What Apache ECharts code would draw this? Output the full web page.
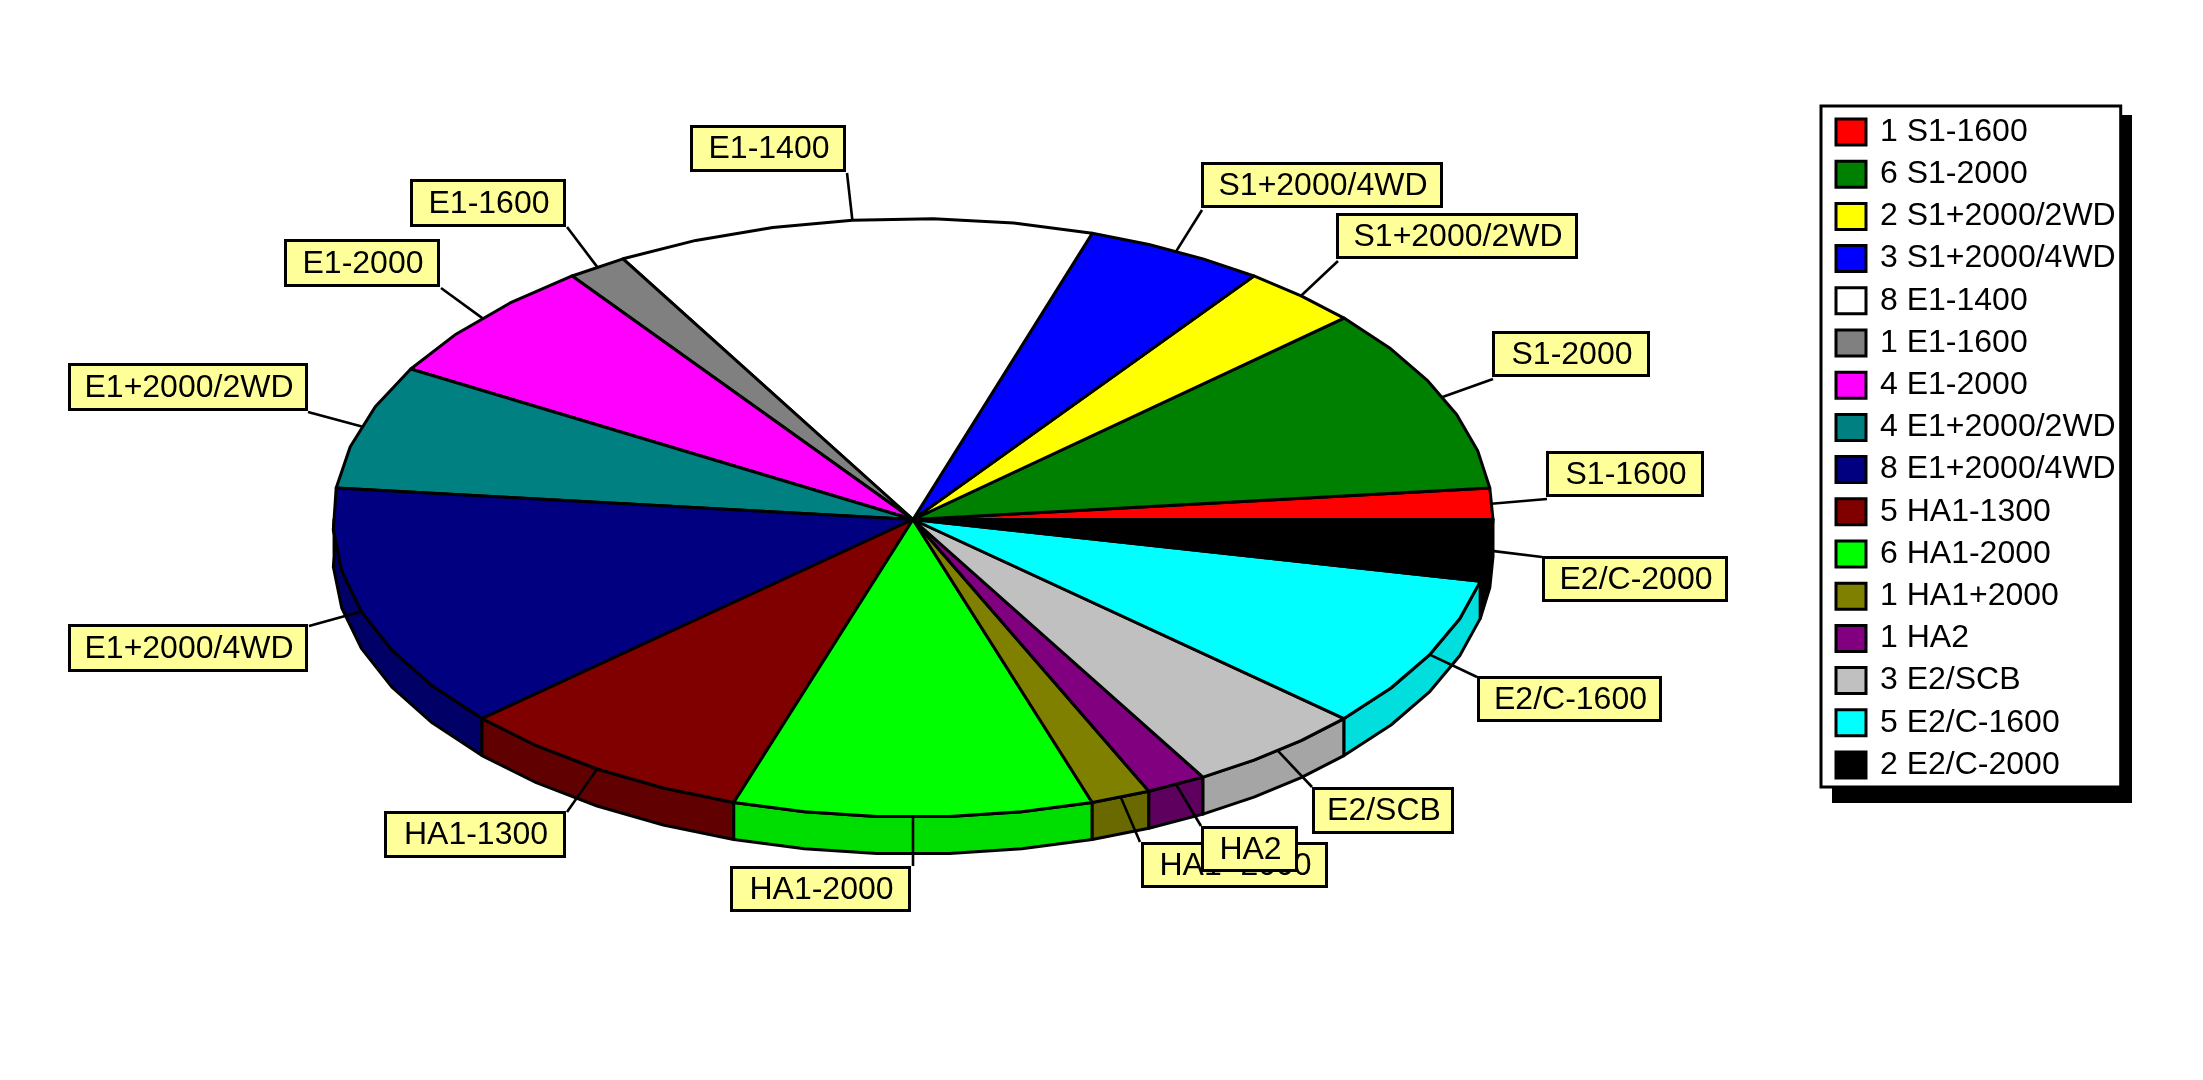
<!DOCTYPE html>
<html>
<head>
<meta charset="utf-8">
<style>html,body{margin:0;padding:0;background:#fff}#chart{width:2203px;height:1080px}</style>
<script src="https://cdn.jsdelivr.net/npm/echarts@6/dist/echarts.min.js"></script>
</head>
<body>
<div id="chart"></div>
<script>
// ---- chart values ----
const CATEGORIES = ['S1-1600','S1-2000','S1+2000/2WD','S1+2000/4WD','E1-1400','E1-1600','E1-2000',
  'E1+2000/2WD','E1+2000/4WD','HA1-1300','HA1-2000','HA1+2000','HA2','E2/SCB','E2/C-1600','E2/C-2000'];
const VALUES = [1,6,2,3,8,1,4,4,8,5,6,1,1,3,5,2];

// ---- styles ----
const TOP_COLORS = ['#ff0000','#008000','#ffff00','#0000ff','#ffffff','#808080','#ff00ff','#008080',
  '#000080','#800000','#00ff00','#808000','#800080','#c0c0c0','#00ffff','#000000'];
const SIDE_COLORS = ['#dd0000','#006e00','#dddd00','#0000dd','#dddddd','#6e6e6e','#dd00dd','#006e6e',
  '#000066','#600000','#00dd00','#696900','#5e005e','#a5a5a5','#00dede','#000000'];

// ---- layout (page pixels) ----
const PIE = {cx:913, cy:519.5, rx:580, ryBack:301, ryFront:297.5, depth:37, facet:8};
const LABEL_BOXES = [ // left, top, right, bottom of each callout
  [1546,451,1704,497],[1492,331,1650,377],[1336,213,1578,259],[1201,162,1443,208],
  [690,125,846,172],[410,179,566,227],[284,239,440,287],[68,363,308,411],
  [68,624,308,672],[384,811,566,858],[730,866,911,912],[1141,842,1328,888],
  [1201,826,1298,872],[1312,787,1454,834],[1477,676,1662,722],[1542,556,1728,602]];
const LEADER_ENDS = [[1547,499],[1493,379],[1338,261],[1202,210],[847,173],[567,227],[441,288],[308,412],
  [309,626],[567,812],[913,866],[1140,842],[1201,826],[1312,787],[1477,677],[1542,557]];
const BORDER = 3, FONT = '32px "Liberation Sans", Arial, sans-serif';

const TOTAL = VALUES.reduce((a,b)=>a+b,0);
function rim(deg){
  const t = deg*Math.PI/180, s = Math.sin(t);
  return [PIE.cx + PIE.rx*Math.cos(t), PIE.cy - s*(s>0?PIE.ryBack:PIE.ryFront)];
}
function facets(a,b){
  const n = Math.max(1,Math.ceil((b-a)/PIE.facet-1e-9)), out=[];
  for(let i=0;i<=n;i++) out.push(a+(b-a)*i/n);
  return out;
}
function onFacets(a,b,deg){
  const f = facets(a,b);
  for(let i=0;i<f.length-1;i++) if(deg<=f[i+1]+1e-9){
    const k=(deg-f[i])/(f[i+1]-f[i]), p=rim(f[i]), q=rim(f[i+1]);
    return [p[0]+(q[0]-p[0])*k,p[1]+(q[1]-p[1])*k];
  }
  return rim(b);
}
function renderSlice(idx){
  return function(params, api){
    const v = api.value(0);
    let before = 0;
    for(let i=0;i<idx;i++) before += VALUES[i];
    const a = before/TOTAL*360, b = (before+v)/TOTAL*360;
    const children = [];
    const line = {stroke:'#000',lineWidth:BORDER,lineJoin:'round'};
    // front wall
    if(b>180){
      const s = Math.max(a,180);
      const degs = facets(a,b).filter(d=>d>=s);
      if(degs[0]>s) degs.unshift(s);
      const up = degs.map(d=>onFacets(a,b,d));
      const down = up.map(p=>[p[0],p[1]+PIE.depth]).reverse();
      children.push({type:'polygon',z2:1,shape:{points:up.concat(down)},
        style:Object.assign({fill:SIDE_COLORS[idx]},line)});
    }
    // top face
    const pts = [[PIE.cx,PIE.cy]].concat(facets(a,b).map(rim));
    children.push({type:'polygon',z2:2,shape:{points:pts},
      style:Object.assign({fill:TOP_COLORS[idx]},line)});
    // leader
    const anchor = onFacets(a,b,(a+b)/2);
    children.push({type:'line',z2:3,shape:{x1:anchor[0],y1:anchor[1],x2:LEADER_ENDS[idx][0],y2:LEADER_ENDS[idx][1]},
      style:{stroke:'#000',lineWidth:2.6}});
    // callout
    const B = LABEL_BOXES[idx], h = BORDER/2;
    children.push({type:'rect',z2:10+2*idx,shape:{x:B[0]+h,y:B[1]+h,width:B[2]-B[0]-BORDER,height:B[3]-B[1]-BORDER},
      style:{fill:'#ffff99',stroke:'#000',lineWidth:BORDER}});
    children.push({type:'text',z2:11+2*idx,style:{text:CATEGORIES[idx],x:(B[0]+B[2])/2+1,y:(B[1]+B[3])/2+1,
      fill:'#000',font:FONT,textAlign:'center',verticalAlign:'middle'}});
    return {type:'group',children};
  };
}

const chart = echarts.init(document.getElementById('chart'),null,{renderer:'canvas'});
const legendNames = CATEGORIES.map((c,i)=>VALUES[i]+' '+c);
chart.setOption({
  animation:false,
  backgroundColor:'#ffffff',
  graphic:[{type:'rect',z:0,shape:{x:1832,y:115,width:300,height:688},style:{fill:'#000'},silent:true}],
  legend:{
    show:true, orient:'vertical', left:1821, top:106,
    selectedMode:false, data:legendNames, icon:'rect',
    itemWidth:30, itemHeight:26, itemGap:10.2, align:'left',
    padding:[10,5,6,13.5],
    backgroundColor:'#ffffff', borderColor:'#000', borderWidth:3,
    itemStyle:{borderColor:'#000',borderWidth:3},
    textStyle:{color:'#000',fontFamily:'"Liberation Sans", Arial, sans-serif',fontSize:32,padding:[0,0,0,9]},
    formatter:n=>n
  },
  series:CATEGORIES.map((c,i)=>({
    type:'custom',
    name:legendNames[i],
    coordinateSystem:'none',
    silent:true,
    itemStyle:{color:TOP_COLORS[i]},
    data:[[VALUES[i]]],
    renderItem:renderSlice(i)
  }))
});
</script>
</body>
</html>
